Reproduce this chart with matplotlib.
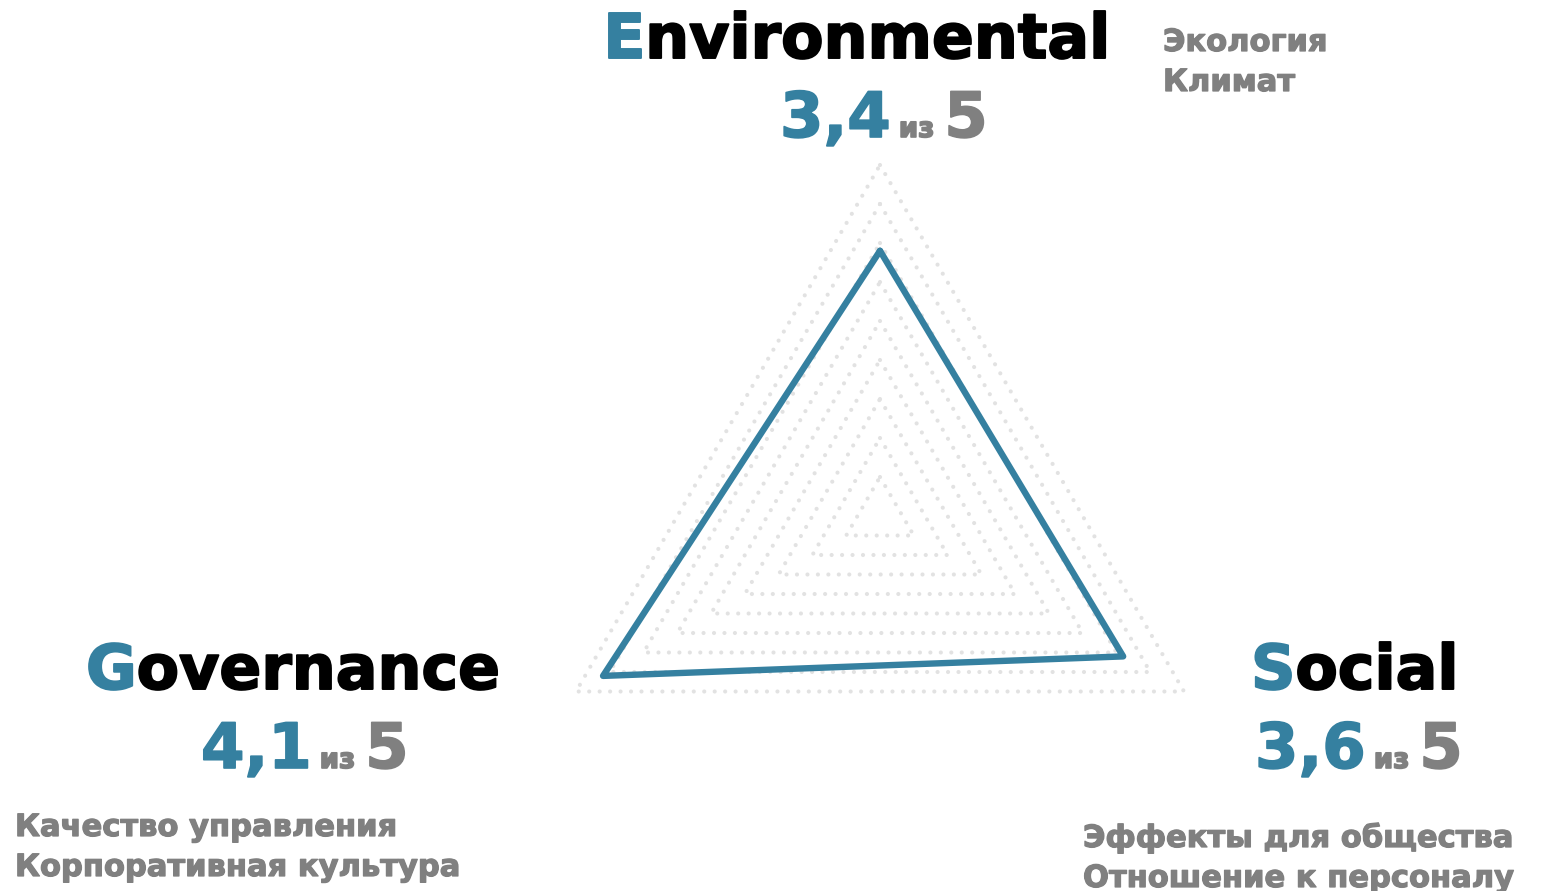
import numpy as np
import matplotlib
matplotlib.use('Agg')
import matplotlib.pyplot as plt
import matplotlib.patheffects as pe
from matplotlib.transforms import IdentityTransform

# ── DATA ─────────────────────────────────────────────────────────
pillars   = ['Environmental', 'Social', 'Governance']
scores    = [3.4, 3.6, 4.1]
max_score = 5
angles_deg = [90, -30, 210]
grid_levels = [0.5, 1.0, 1.5, 2.0, 2.5, 3.0, 3.5, 4.0, 4.5]
topics = {
    'Environmental': ['Экология', 'Климат'],
    'Social':        ['Эффекты для общества', 'Отношение к персоналу'],
    'Governance':    ['Качество управления', 'Корпоративная культура'],
}

BLUE  = '#3580A0'
GRAY  = '#808080'
GRID  = '#E2E2E2'
BLACK = '#000000'

W, H, DPI = 1550, 891, 100
fig = plt.figure(figsize=(W / DPI, H / DPI), dpi=DPI, facecolor='white')
plt.rcParams['font.family'] = ['DejaVu Sans']

# ── RADAR (cartesian, 78 px per score unit) ──────────────────────
CX, CY, PX = 880, 516, 78
ax = fig.add_axes([0, 0, 1, 1])
ax.set_xlim(-CX / PX, (W - CX) / PX)
ax.set_ylim(-(H - CY) / PX, CY / PX)
ax.axis('off')

th = np.deg2rad(angles_deg + angles_deg[:1])
for lv in grid_levels:
    ax.plot(lv * np.cos(th), lv * np.sin(th), color=GRID, lw=3.0,
            linestyle=(0, (0.01, 2.5)), dash_capstyle='round')

r = np.array(scores + scores[:1])
ax.plot(r * np.cos(th), r * np.sin(th), color=BLUE, lw=4.6,
        solid_joinstyle='round', solid_capstyle='round')

# ── TEXT HELPERS (pixel coords, y from top) ──────────────────────
renderer = fig.canvas.get_renderer()
ID = IdentityTransform()

def put(x, y, txt, col, size, stroke, ha='left'):
    t = fig.text(x, H - y, txt, color=col, fontsize=size, fontweight='bold',
                 ha=ha, va='baseline', transform=ID)
    if stroke:
        t.set_path_effects([pe.withStroke(linewidth=stroke, foreground=col)])
    return t

def width(txt, size):
    t = fig.text(0, 0, txt, fontsize=size, fontweight='bold', transform=ID)
    w = t.get_window_extent(renderer).width
    t.remove()
    return w

def title(x, y, name, size):
    # first letter blue, rest black; rest aligned to end of full word
    put(x, y, name[0], BLUE, size, 1.4)
    put(x + width(name, size), y, name[1:], BLACK, size, 1.4, ha='right')

def score(x, y, parts):
    for txt, col, size, gap in parts:
        t = put(x + gap, y, txt, col, size, 1.2)
        x = t.get_window_extent(renderer).x1

def fmt(v):
    return f'{v:.1f}'.replace('.', ',')

TITLE, NUM, SMALL, DESC = 44.5, 45, 20, 22

layout = {
    # title xy, score xy, topics xy
    'Environmental': ((603, 58), (780, 137), (1163, 51)),
    'Social':        ((1251, 689), (1255, 768), (1083, 847)),
    'Governance':    ((86, 689), (201, 768), (15, 836)),
}

for name, val in zip(pillars, scores):
    (tx, ty), (sx, sy), (dx, dy) = layout[name]
    title(tx, ty, name, TITLE)
    score(sx, sy, [(fmt(val), BLUE, NUM, 0), ('из', GRAY, SMALL, 8),
                   (str(max_score), GRAY, NUM, 10)])
    for i, line in enumerate(topics[name]):
        put(dx, dy + i * 40, line, GRAY, DESC, 0.9)

plt.savefig('out.png', dpi=DPI, facecolor='white')
